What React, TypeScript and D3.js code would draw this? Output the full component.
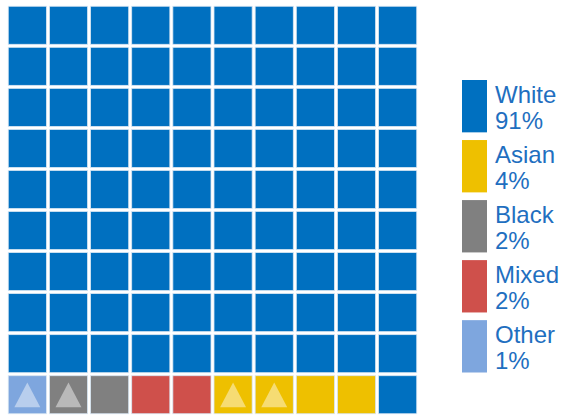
import React from "react";
import * as d3 from "d3";

const categories = ["White", "Asian", "Black", "Mixed", "Other"];
const percents = [91, 4, 2, 2, 1];
const colors = ["#0070C0", "#EEC000", "#808080", "#CF504B", "#7EA6DE"];
// order of cells in the last row (left to right), the rest is White
const lastRow = ["Other", "Black", "Black", "Mixed", "Mixed", "Asian", "Asian", "Asian", "Asian", "White"];
const marked = [true, true, false, false, false, true, true, false, false, false];

const W = 565, H = 415;
const nCols = 10, nRows = 10;

export default function App() {
  const color = d3.scaleOrdinal<string, string>().domain(categories).range(colors);
  const x = d3.scaleBand<number>().domain(d3.range(nCols)).range([7.5, 7.5 + 41 * nCols]).paddingInner(3 / 41).paddingOuter(0.75 / 41);
  const y = d3.scaleBand<number>().domain(d3.range(nRows)).range([5.5, 5.5 + 40.9 * nRows]).paddingInner(3 / 40.9).paddingOuter(0.75 / 40.9);
  const cells: { r: number; c: number; cat: string; tri: boolean }[] = [];
  for (let r = 0; r < nRows; r++) {
    for (let c = 0; c < nCols; c++) {
      if (r < nRows - 1) cells.push({ r, c, cat: "White", tri: false });
      else cells.push({ r, c, cat: lastRow[c], tri: marked[c] });
    }
  }
  const bw = x.bandwidth(), bh = y.bandwidth();
  const legendY = d3.scaleBand<string>().domain(categories).range([80, 80 + 58.5 * categories.length]).paddingInner(7.5 / 58.5);
  const textColor = "#1F6FC0";
  return (
    <svg width={W} height={H} style={{ position: "absolute", left: 0, top: 0 }} fontFamily="'Liberation Sans', Arial, sans-serif">
      <rect width={W} height={H} fill="#fff" />
      {cells.map((d, i) => {
        const x0 = x(d.c)!, y0 = y(d.r)!;
        return (
          <g key={i}>
            <rect x={x0} y={y0} width={bw} height={bh} fill={color(d.cat)} stroke="#d8e6f3" strokeWidth={0.8} />
            {d.tri && (
              <path
                d={`M${x0 + bw / 2},${y0 + bh * 0.18} L${x0 + bw * 0.84},${y0 + bh * 0.83} L${x0 + bw * 0.16},${y0 + bh * 0.83} Z`}
                fill="#fff"
                fillOpacity={0.45}
              />
            )}
          </g>
        );
      })}
      {categories.map((cat, i) => {
        const y0 = legendY(cat)!;
        return (
          <g key={cat}>
            <rect x={462} y={y0} width={25} height={legendY.bandwidth()} fill={color(cat)} />
            <text x={495} y={y0 + 23} fontSize={24} fill={textColor}>{cat}</text>
            <text x={495} y={y0 + 49} fontSize={24} fill={textColor}>{percents[i]}%</text>
          </g>
        );
      })}
    </svg>
  );
}
